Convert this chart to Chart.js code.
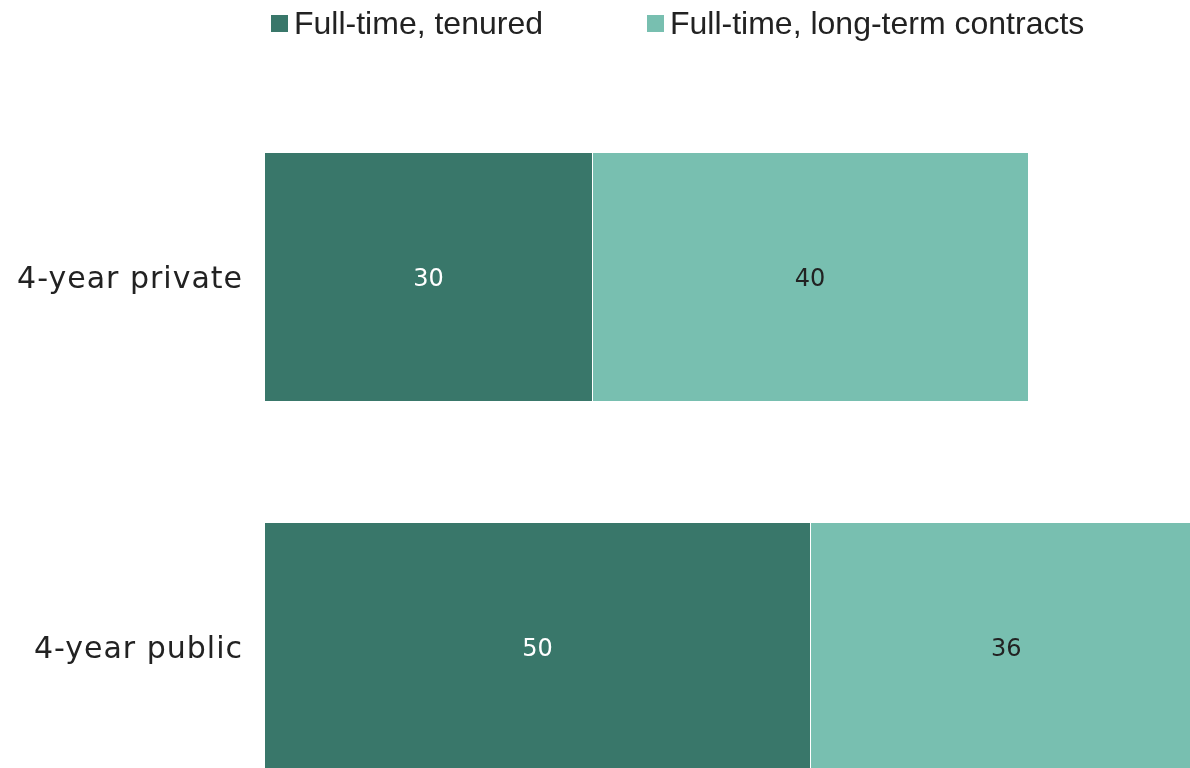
<!DOCTYPE html>
<html>
<head>
<meta charset="utf-8">
<script src="https://cdn.jsdelivr.net/npm/chart.js@4"></script>
<style>
  html, body { margin: 0; padding: 0; background: #fff; overflow: hidden; width: 1190px; height: 768px; }
  #wrap { position: absolute; left: 0; top: 0; width: 1355px; height: 872px; }
  #legend { position: absolute; left: 271px; top: 5px; display: flex; gap: 104px;
            font-family: "Liberation Sans", Arial, sans-serif; font-size: 32px; line-height: 37px; color: #222; z-index: 2; }
  .item { display: flex; align-items: center; white-space: nowrap; }
  .box { width: 17px; height: 17px; margin-right: 6px; }
</style>
</head>
<body>
<div id="wrap">
  <div id="legend"></div>
  <canvas id="c" width="1355" height="872"></canvas>
</div>
<script>
const categories = ["4-year private", "4-year public"];
const seriesNames = ["Full-time, tenured", "Full-time, long-term contracts"];
const tenured = [30, 50];
const longTerm = [40, 36];
const seriesColors = ["#39776A", "#78BFB0"];
const labelColors = ["#ffffff", "#222222"];

const legend = document.getElementById('legend');
seriesNames.forEach((n, i) => {
  const it = document.createElement('div'); it.className = 'item';
  const b = document.createElement('span'); b.className = 'box'; b.style.background = seriesColors[i];
  const t = document.createElement('span'); t.textContent = n;
  it.appendChild(b); it.appendChild(t); legend.appendChild(it);
});

const spacing = {
  id: 'spacing',
  beforeDraw(chart) { chart.ctx.letterSpacing = '1px'; },
  afterDraw(chart) { chart.ctx.letterSpacing = '0px'; }
};

const valueLabels = {
  id: 'valueLabels',
  afterDatasetsDraw(chart) {
    const ctx = chart.ctx;
    ctx.save();
    ctx.letterSpacing = '0px';
    ctx.font = '24px "DejaVu Sans"';
    ctx.textAlign = 'center';
    ctx.textBaseline = 'middle';
    chart.data.datasets.forEach((ds, di) => {
      const meta = chart.getDatasetMeta(di);
      ctx.fillStyle = labelColors[di];
      meta.data.forEach((el, i) => {
        const cx = (el.x + el.base) / 2;
        ctx.fillText(String(ds.data[i]), cx, el.y + 3);
      });
    });
    ctx.restore();
  }
};

new Chart(document.getElementById('c'), {
  type: 'bar',
  data: {
    labels: categories,
    datasets: [
      { label: seriesNames[0], data: tenured, backgroundColor: seriesColors[0], borderWidth: 0 },
      { label: seriesNames[1], data: longTerm, backgroundColor: seriesColors[1],
        borderColor: 'rgba(255,255,255,0.6)', borderWidth: { left: 1, top: 0, right: 0, bottom: 0 }, borderSkipped: false }
    ]
  },
  options: {
    indexAxis: 'y',
    responsive: false,
    animation: false,
    layout: { padding: { top: 92, left: 0, right: 0, bottom: 0 } },
    datasets: { bar: { categoryPercentage: 1, barPercentage: 0.67 } },
    plugins: { legend: { display: false }, tooltip: { enabled: false } },
    scales: {
      x: { stacked: true, min: 0, max: 100, display: false },
      y: {
        stacked: true,
        grid: { display: false, drawTicks: false },
        border: { display: false },
        afterFit: s => { s.width = 265; },
        ticks: { padding: 22, labelOffset: 3, color: '#222', font: { family: 'DejaVu Sans', size: 30 } }
      }
    }
  },
  plugins: [spacing, valueLabels]
});
</script>
</body>
</html>
